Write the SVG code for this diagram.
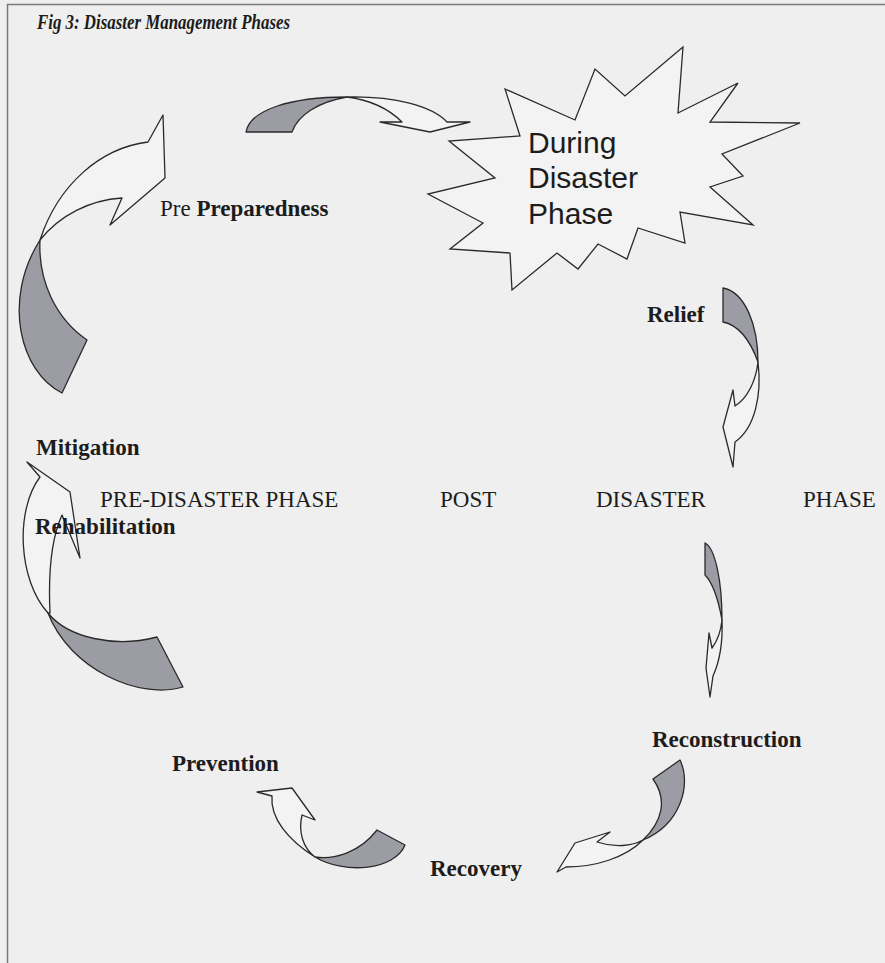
<svg xmlns="http://www.w3.org/2000/svg" width="885" height="963" viewBox="0 0 885 963">
  <style>
    .lbl { font-family: "Liberation Serif", "Times New Roman", serif; font-size: 23px; fill: #1c1c1c; }
    .b { font-weight: bold; }
    .star-text { font-family: "Liberation Sans", Arial, sans-serif; font-size: 30px; fill: #1c1c1c; }
    .shade { fill: #9c9ca4; stroke: #2a2a2a; stroke-width: 1.3; stroke-linejoin: round; }
    .face { fill: #f3f3f3; stroke: #2a2a2a; stroke-width: 1.3; stroke-linejoin: round; }
  </style>

  <!-- page background and frame -->
  <rect x="0" y="0" width="885" height="963" fill="#efefef"/>
  <path d="M7.5,963 V4.5 H885" fill="none" stroke="#7a7a7a" stroke-width="1.5"/>

  <g id="title">
    <text x="37" y="29" font-family="'Liberation Serif', 'Times New Roman', serif" font-size="20" font-weight="bold" font-style="italic" fill="#1c1c1c" textLength="253" lengthAdjust="spacingAndGlyphs">Fig 3: Disaster Management Phases</text>
  </g>

  <!-- curved phase arrows -->
  <g id="connectors">
    <g id="arrow-preparedness-to-during">
      <path class="shade" d="M246,132 C250,110 290,97 347,97 C318,102 298,115 292,132 Z"/>
      <path class="face" d="M347,97 C395,96 432,106 447,122 L470,122 L430,132 L380,122 L402,122 C388,108 370,100 347,97 Z"/>
    </g>
    <g id="arrow-relief">
      <path class="shade" d="M723,288 C745,292 758,325 758,362 C750,340 738,325 723,322 Z"/>
      <path class="face" d="M758,362 C762,395 755,428 735,442 L733,467 L723,427 L733,390 L735,406 C748,398 756,380 758,362 Z"/>
    </g>
    <g id="arrow-post-disaster">
      <path class="shade" d="M705,543 C715,548 722,580 722,620 C718,598 712,582 705,575 Z"/>
      <path class="face" d="M722,620 C723,645 718,665 713,676 L710,697 L706,668 L709,633 L712,648 C718,640 721,630 722,620 Z"/>
    </g>
    <g id="arrow-reconstruction-to-recovery">
      <path class="shade" d="M680,760 C692,785 680,825 643,840 C662,822 668,800 653,779 Z"/>
      <path class="face" d="M643,840 C625,858 595,867 566,867 L557,872 L575,843 L610,832 L597,842 C615,848 632,846 643,840 Z"/>
    </g>
    <g id="arrow-recovery-to-prevention">
      <path class="shade" d="M405,845 C395,870 345,875 315,857 C335,860 360,852 377,830 Z"/>
      <path class="face" d="M315,857 C288,840 270,818 272,796 L257,792 L292,788 L315,820 L302,815 C298,832 303,848 315,857 Z"/>
    </g>
    <g id="arrow-rehabilitation-to-mitigation">
      <path class="shade" d="M183,687 C140,700 70,670 48,613 C68,638 115,648 157,637 Z"/>
      <path class="face" d="M48,613 C18,580 15,510 40,477 L27,462 L70,492 L80,558 L62,515 C52,537 48,570 50,613 Z"/>
    </g>
    <g id="arrow-mitigation-to-preparedness">
      <path class="shade" d="M62,393 C20,372 2,300 40,240 C38,280 55,318 87,340 Z"/>
      <path class="face" d="M40,240 C58,185 100,148 148,142 L163,115 L165,178 L110,225 L122,198 C90,200 60,215 40,240 Z"/>
    </g>
  </g>

  <g id="node-during">
    <polygon fill="#f3f3f3" stroke="#2a2a2a" stroke-width="1.3" stroke-linejoin="miter" points="505,89 575,120 595,69 625,96 683,47 678,113 738,83 710,122 800,123 722,154 743,176 710,187 753,225 680,212 685,243 638,228 627,259 598,244 578,269 557,253 512,290 510,253 450,249 483,223 428,194 495,178 449,141 520,136"/>
    <text class="star-text" x="528" y="153">During</text>
    <text class="star-text" x="528" y="188">Disaster</text>
    <text class="star-text" x="528" y="224">Phase</text>
  </g>

  <g id="node-preparedness">
    <text class="lbl" x="160" y="216">Pre <tspan class="b">Preparedness</tspan></text>
  </g>
  <g id="node-relief">
    <text class="lbl b" x="647" y="322">Relief</text>
  </g>
  <g id="node-mitigation">
    <text class="lbl b" x="36" y="455">Mitigation</text>
  </g>
  <g id="node-pre-disaster">
    <text class="lbl" x="100" y="507">PRE-DISASTER PHASE</text>
  </g>
  <g id="node-post-disaster">
    <text class="lbl" x="440" y="507">POST</text>
    <text class="lbl" x="596" y="507">DISASTER</text>
    <text class="lbl" x="803" y="507">PHASE</text>
  </g>
  <g id="node-rehabilitation">
    <text class="lbl b" x="35" y="534">Rehabilitation</text>
  </g>
  <g id="node-reconstruction">
    <text class="lbl b" x="652" y="747">Reconstruction</text>
  </g>
  <g id="node-prevention">
    <text class="lbl b" x="172" y="771">Prevention</text>
  </g>
  <g id="node-recovery">
    <text class="lbl b" x="430" y="876">Recovery</text>
  </g>
</svg>
